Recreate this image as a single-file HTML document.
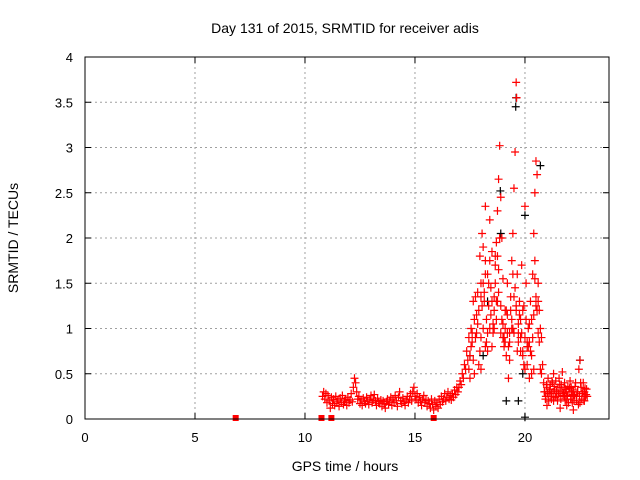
<!DOCTYPE html>
<html><head><meta charset="utf-8"><style>
body{margin:0;background:#fff;}
svg{display:block;font-family:"Liberation Sans",sans-serif;}
</style></head><body>
<svg id="chart" width="640" height="480">
<text x="345" y="33" font-size="14" text-anchor="middle">Day 131 of 2015, SRMTID for receiver adis</text>
<text x="345" y="471" font-size="14" text-anchor="middle">GPS time / hours</text>
<text transform="translate(18,238) rotate(-90)" font-size="14" text-anchor="middle">SRMTID / TECUs</text>
<g id="grid"></g><g id="ticks"></g><g id="marks"></g>
<rect x="85" y="57" width="524" height="362" fill="none" stroke="#000"/>
</svg>
<script>
const xTicks=[0,5,10,15,20];
const yTicks=[0,0.5,1,1.5,2,2.5,3,3.5,4];
const yTickLabels=["0","0.5","1","1.5","2","2.5","3","3.5","4"];
const redT=[10.80,10.85,10.90,10.95,11.00,11.05,11.10,11.15,11.20,11.25,11.30,11.35,11.40,11.45,11.50,11.55,11.60,11.65,11.70,11.75,11.80,11.85,11.90,11.95,12.00,12.05,12.10,12.15,12.20,12.25,12.30,12.35,12.40,12.45,12.50,12.55,12.60,12.65,12.70,12.75,12.80,12.85,12.90,12.95,13.00,13.05,13.10,13.15,13.20,13.25,13.30,13.35,13.40,13.45,13.50,13.55,13.60,13.65,13.70,13.75,13.80,13.85,13.90,13.95,14.00,14.05,14.10,14.15,14.20,14.25,14.30,14.35,14.40,14.45,14.50,14.55,14.60,14.65,14.70,14.75,14.80,14.85,14.90,14.95,15.00,15.05,15.10,15.15,15.20,15.25,15.30,15.35,15.40,15.45,15.50,15.55,15.60,15.65,15.70,15.75,15.80,15.85,15.90,15.95,16.00,16.05,16.10,16.15,16.20,16.25,16.30,16.35,16.40,16.45,16.50,16.55,16.60,16.65,16.70,16.75,16.80,16.85,16.90,16.95,
17.0,17.05,17.1,17.15,17.2,17.25,17.3,17.35,17.4,17.45,17.5,17.55,17.6,17.65,17.7,17.75,17.8,17.85,17.9,17.95,18.0,18.05,18.1,18.15,18.2,18.25,18.3,18.35,18.4,18.45,18.5,18.55,18.6,18.65,18.7,18.75,18.8,18.85,18.9,18.95,19.0,19.05,19.1,19.15,19.2,19.25,19.3,19.35,19.4,19.45,19.5,19.55,19.6,19.62,19.65,19.7,19.75,19.8,19.85,19.9,19.95,20.0,20.05,20.1,20.15,20.2,20.25,20.3,20.35,20.4,20.45,20.5,20.55,20.6,20.65,20.7,20.75,20.8,
17.9,18.0,18.1,18.2,18.3,18.4,18.5,18.6,18.7,18.8,18.9,19.0,19.1,19.2,19.3,19.4,19.5,19.6,19.7,19.8,19.9,20.0,20.1,20.2,20.3,20.4,20.5,20.6,20.7,18.2,18.65,19.45,20.45,18.75,17.7,17.5,18.0,
17.45,17.55,17.65,17.75,17.85,17.95,18.05,18.15,18.25,18.35,18.45,18.55,18.65,18.75,18.85,18.95,19.05,19.15,19.25,19.35,19.45,19.55,19.65,19.75,19.85,19.95,20.05,20.15,20.25,20.35,20.45,20.55,20.65,20.75,
17.6,17.8,18.0,18.2,18.4,18.6,18.8,19.0,19.2,19.4,19.6,19.8,20.0,20.2,20.4,20.6,18.1,18.3,18.5,18.7,18.9,19.1,19.3,19.5,19.7,19.9,20.1,20.3,20.5,
20.85,20.9,20.95,21.0,21.05,21.1,21.15,21.2,21.25,21.3,21.35,21.4,21.45,21.5,21.55,21.6,21.65,21.7,21.75,21.8,21.85,21.9,21.95,22.0,22.05,22.1,22.15,22.2,22.25,22.3,22.35,22.4,22.45,22.5,22.55,22.6,22.65,22.7,22.75,22.8,
21.0,21.3,21.6,21.9,22.2,22.5,22.7,21.2,21.8,22.1,
20.88,20.93,20.98,21.03,21.08,21.13,21.18,21.23,21.28,21.33,21.38,21.43,21.48,21.53,21.58,21.63,21.68,21.73,21.78,21.83,21.88,21.93,21.98,22.03,22.08,22.13,22.18,22.23,22.28,22.33,22.38,22.43,22.48,22.53,22.58,22.63,22.68,22.73,22.78,22.83];
const redV=[.25,.30,.22,.28,.18,.26,.20,.12,.24,.17,.22,.15,.25,.19,.21,.14,.23,.18,.26,.16,.20,.22,.15,.24,.18,.21,.28,.19,.35,.45,.40,.30,.22,.25,.17,.21,.15,.23,.19,.17,.24,.20,.16,.22,.26,.18,.21,.27,.20,.15,.23,.19,.17,.21,.14,.20,.17,.12,.19,.22,.16,.20,.24,.15,.22,.18,.26,.20,.14,.24,.30,.20,.17,.23,.19,.15,.21,.25,.18,.22,.28,.20,.30,.35,.25,.22,.28,.18,.24,.20,.15,.22,.26,.18,.21,.14,.20,.17,.12,.22,.16,.10,.20,.14,.18,.12,.22,.16,.25,.19,.22,.28,.20,.24,.30,.22,.26,.21,.28,.24,.32,.27,.35,.30,
.35,.42,.38,.5,.45,.6,.55,.75,.65,.9,.7,1.0,.85,1.3,1.1,1.35,.95,1.4,1.2,1.8,1.5,2.05,1.9,1.3,1.75,1.1,1.6,1.25,2.2,1.45,1.85,1.05,1.35,1.7,1.95,2.3,2.65,3.02,2.45,2.0,1.55,.8,1.0,.7,1.15,.45,.85,1.2,1.75,2.05,2.55,2.95,3.72,3.55,1.6,1.05,1.3,.9,1.7,1.2,.6,2.35,1.5,.85,1.0,.45,.75,1.1,1.6,2.05,2.5,2.85,2.7,1.5,1.2,1.0,.9,.6,
.6,.9,1.0,.8,.95,1.0,1.3,1.0,1.1,1.65,1.25,.9,.85,1.5,.95,1.1,.95,1.25,.95,.75,.7,.55,.8,1.05,.7,.55,1.35,.95,.55,2.35,1.5,1.6,1.55,1.8,.5,.45,.55,
.55,.8,.65,.9,1.05,.75,1.25,1.4,.85,1.5,1.15,.95,1.8,1.3,2.0,1.1,.9,1.2,.8,1.35,1.0,1.45,.75,1.15,.95,1.25,1.1,.8,1.3,.9,1.75,1.2,.85,.5,
.95,1.15,1.35,1.6,1.75,1.2,1.4,1.05,.95,1.0,1.2,1.1,.9,.85,1.15,1.3,1.5,.75,.8,1.3,.95,1.2,.65,1.35,.85,.75,.6,.5,1.25,
.4,.3,.25,.35,.45,.3,.38,.28,.4,.5,.32,.42,.25,.35,.45,.3,.38,.52,.28,.4,.33,.22,.36,.3,.42,.25,.18,.32,.26,.4,.2,.3,.55,.65,.35,.28,.4,.3,.25,.33,
.15,.2,.12,.15,.1,.18,.2,.22,.25,.35,
.3,.22,.38,.28,.2,.33,.25,.42,.3,.36,.24,.3,.2,.28,.38,.22,.32,.26,.35,.2,.3,.26,.18,.34,.22,.3,.27,.2,.36,.25,.3,.16,.25,.4,.22,.3,.2,.34,.27,.25];
const blackT=[19.6,19.58,18.88,18.9,19.7,20.0,20.7,17.5,18.1,19.15,20.0,22.5,19.9,18.3];
const blackV=[3.55,3.45,2.52,2.05,0.2,2.25,2.8,0.7,0.7,0.2,0.02,0.65,0.5,1.3];
const zeroT=[6.85,10.75,11.2,15.85];

const X0=85,X1=609,Y0=419,Y1=57,XMAX=23.82,YMAX=4;
const sx=t=>X0+(X1-X0)*t/XMAX;
const sy=v=>Y0-(Y0-Y1)*v/YMAX;
const NS="http://www.w3.org/2000/svg";
function mk(tag,attrs,parent){const e=document.createElementNS(NS,tag);for(const k in attrs)e.setAttribute(k,attrs[k]);parent.appendChild(e);return e;}
const grid=document.getElementById('grid'),ticks=document.getElementById('ticks'),marks=document.getElementById('marks');
xTicks.forEach(t=>{const x=sx(t);
 if(t>0){const g=mk('line',{x1:x,x2:x,y1:Y1,y2:Y0,stroke:'#a0a0a0','stroke-dasharray':'2,3'},grid);
 
 }
 mk('line',{x1:x,x2:x,y1:Y0,y2:Y0-6,stroke:'#000'},ticks);
 mk('line',{x1:x,x2:x,y1:Y1,y2:Y1+6,stroke:'#000'},ticks);
 const l=mk('text',{x:x,y:442,'font-size':13,'text-anchor':'middle'},ticks);l.textContent=t;
 
 
});
yTicks.forEach((v,i)=>{const y=sy(v);
 if(v>0&&v<4){const g=mk('line',{x1:X0,x2:X1,y1:y,y2:y,stroke:'#a0a0a0','stroke-dasharray':'2,3'},grid);
 
 }
 mk('line',{x1:X0,x2:X0+6,y1:y,y2:y,stroke:'#000'},ticks);
 mk('line',{x1:X1,x2:X1-6,y1:y,y2:y,stroke:'#000'},ticks);
 const l=mk('text',{x:73,y:y+5,'font-size':13,'text-anchor':'end'},ticks);l.textContent=yTickLabels[i];
 
 
});
function plus(t,v,c,name){const x=sx(t),y=sy(v);
 const p=mk('path',{d:`M${x-4},${y}H${x+4}M${x},${y-4}V${y+4}`,stroke:c,'stroke-width':1.2,fill:'none'},marks);
 
 }
blackT.forEach((t,i)=>plus(t,blackV[i],'#000','black-point'));
redT.forEach((t,i)=>plus(t,redV[i],'#ff0000','red-point'));
zeroT.forEach(t=>{const r=mk('rect',{x:sx(t)-3,y:Y0-4,width:6,height:6,fill:'#ff0000'},marks);
 
 });
</script>
</body></html>
